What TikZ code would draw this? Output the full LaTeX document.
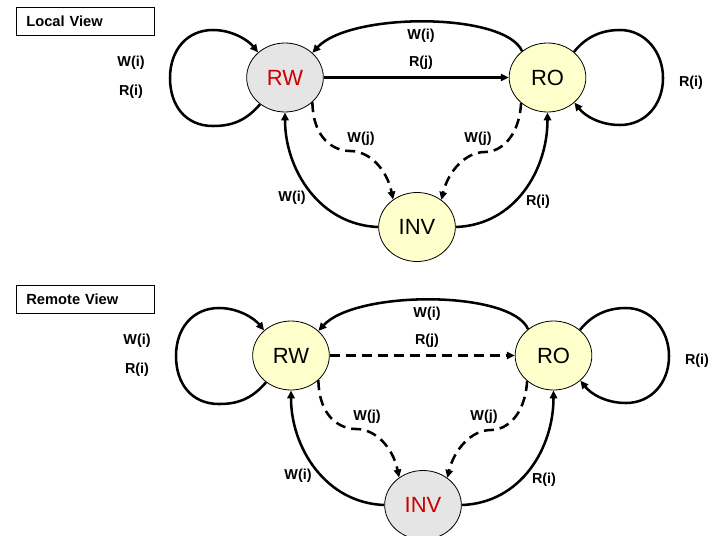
\documentclass[tikz,border=0pt]{standalone}
\usepackage{fontspec}
\setmainfont{Liberation Sans}
\usetikzlibrary{arrows.meta,shapes.geometric}
\definecolor{statefill}{HTML}{FFFFCC}
\definecolor{greyfill}{HTML}{E5E5E5}
\definecolor{statered}{HTML}{CC0000}
\begin{document}
\begin{tikzpicture}[x=0.75pt,y=-0.75pt,
  state/.style={ellipse, draw=black, line width=0.6pt, minimum width=57.5pt,
    minimum height=51.75pt, inner sep=0pt, font=\fontsize{16.5}{18}\selectfont},
  localstate/.style={state, fill=greyfill, text=statered},
  plainstate/.style={state, fill=statefill},
  edge/.style={line width=1.9pt, -{Triangle[length=6pt,width=5.5pt]}},
  dashededge/.style={edge, dash pattern=on 7.5pt off 4.5pt},
  lbl/.style={font=\bfseries\fontsize{10.8}{12}\selectfont, inner sep=0pt},
  viewbox/.style={draw, line width=0.6pt, anchor=north west, text width=88.5pt,
    inner xsep=7.5pt, minimum height=21pt, align=left,
    font=\bfseries\fontsize{11}{13}\selectfont}
]
\useasboundingbox (0,0) rectangle (709,535);

% ---------- local view ----------
\node[viewbox] (localbox) at (16,7) {Local View};

\node[localstate] (RW1) at (285,77.5) {RW};
\node[plainstate] (RO1) at (547.5,77.5) {RO};
\node[plainstate] (INV1) at (417,227) {INV};

\draw[edge] (RW1.-133) .. controls (245,122) and (230,126) .. (213,126)
  .. controls (185,126) and (170,105) .. (170,78)
  .. controls (170,50) and (187,30) .. (213,30)
  .. controls (232,30) and (248,40) .. (RW1.137);
\draw[edge] (RO1.134) .. controls (505,12) and (350,12) .. (RW1.42);
\draw[edge] (RW1) -- (RO1);
\draw[edge] (RO1.44) .. controls (585,38) and (600,30) .. (620,30)
  .. controls (645,30) and (663,52) .. (663,78)
  .. controls (663,105) and (645,125) .. (620,125)
  .. controls (600,125) and (585,116) .. (RO1.-43);
\draw[dashededge] (RW1.-42) .. controls (313,140) and (335,151) .. (350,151)
  .. controls (370,151) and (387,170) .. (INV1.131);
\draw[dashededge] (RO1.-136) .. controls (519,138) and (500,152) .. (485,152)
  .. controls (465,152) and (448,172) .. (INV1.48);
\draw[edge] (INV1.west) .. controls (320,225) and (285,170) .. (RW1.south);
\draw[edge] (INV1.east) .. controls (515,225) and (547.5,170) .. (RO1.south);

\node[lbl] (l1a) at (131,63) {W(i)};
\node[lbl] (l1b) at (131,92) {R(i)};
\node[lbl] (l1c) at (421,36) {W(i)};
\node[lbl] (l1d) at (421,63) {R(j)};
\node[lbl] (l1e) at (691,83) {R(i)};
\node[lbl] (l1f) at (361,139) {W(j)};
\node[lbl] (l1g) at (478,139) {W(j)};
\node[lbl] (l1h) at (292,198) {W(i)};
\node[lbl] (l1i) at (538,202) {R(i)};

% ---------- remote view ----------
\node[viewbox] (remotebox) at (16,285) {Remote View};

\begin{scope}[shift={(6,278)}]
\node[plainstate] (RW2) at (285,77.5) {RW};
\node[plainstate] (RO2) at (547.5,77.5) {RO};
\node[localstate] (INV2) at (417,227) {INV};

\draw[edge] (RW2.-133) .. controls (245,122) and (230,126) .. (213,126)
  .. controls (185,126) and (170,105) .. (170,78)
  .. controls (170,50) and (187,30) .. (213,30)
  .. controls (232,30) and (248,40) .. (RW2.137);
\draw[edge] (RO2.134) .. controls (505,12) and (350,12) .. (RW2.42);
\draw[dashededge] (RW2) -- (RO2);
\draw[edge] (RO2.44) .. controls (585,38) and (600,30) .. (620,30)
  .. controls (645,30) and (663,52) .. (663,78)
  .. controls (663,105) and (645,125) .. (620,125)
  .. controls (600,125) and (585,116) .. (RO2.-43);
\draw[dashededge] (RW2.-42) .. controls (313,140) and (335,151) .. (350,151)
  .. controls (370,151) and (387,170) .. (INV2.131);
\draw[dashededge] (RO2.-136) .. controls (519,138) and (500,152) .. (485,152)
  .. controls (465,152) and (448,172) .. (INV2.48);
\draw[edge] (INV2.west) .. controls (320,225) and (285,170) .. (RW2.south);
\draw[edge] (INV2.east) .. controls (515,225) and (547.5,170) .. (RO2.south);

\node[lbl] (l2a) at (131,63) {W(i)};
\node[lbl] (l2b) at (131,92) {R(i)};
\node[lbl] (l2c) at (421,36) {W(i)};
\node[lbl] (l2d) at (421,63) {R(j)};
\node[lbl] (l2e) at (691,83) {R(i)};
\node[lbl] (l2f) at (361,139) {W(j)};
\node[lbl] (l2g) at (478,139) {W(j)};
\node[lbl] (l2h) at (292,198) {W(i)};
\node[lbl] (l2i) at (538,202) {R(i)};
\end{scope}
\end{tikzpicture}
\end{document}
